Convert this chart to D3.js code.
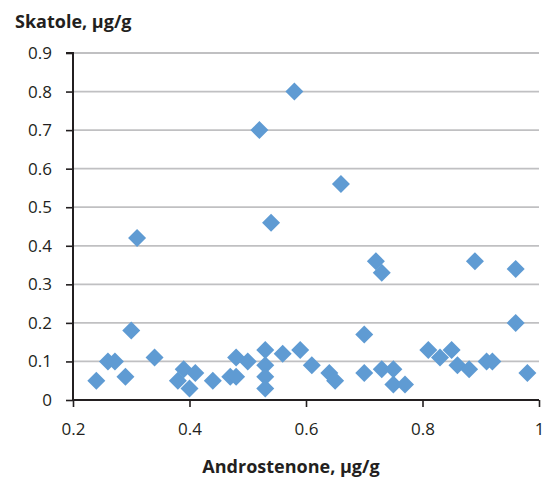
<!DOCTYPE html>
<html>
<head>
<meta charset="utf-8">
<script src="https://cdn.jsdelivr.net/npm/d3@7"></script>
<style>
  html, body { margin: 0; padding: 0; background: #fff; }
  svg { display: block; font-family: "Open Sans", "Noto Sans", sans-serif; }
</style>
</head>
<body>
<svg id="chart" width="545" height="477"></svg>
<script>
const androstenone = [0.24,0.26,0.272,0.29,0.30,0.31,0.34,0.38,0.39,0.41,0.40,0.44,0.47,0.48,0.48,0.50,0.53,0.53,0.53,0.53,0.54,0.56,0.59,0.61,0.64,0.65,0.70,0.70,0.72,0.73,0.73,0.75,0.75,0.77,0.81,0.83,0.85,0.86,0.88,0.89,0.91,0.92,0.96,0.96,0.98,0.58,0.52,0.66];
const skatole      = [0.05,0.10,0.10,0.06,0.18,0.42,0.11,0.05,0.08,0.07,0.03,0.05,0.06,0.06,0.11,0.10,0.13,0.09,0.06,0.03,0.46,0.12,0.13,0.09,0.07,0.05,0.17,0.07,0.36,0.33,0.08,0.08,0.04,0.04,0.13,0.11,0.13,0.09,0.08,0.36,0.10,0.10,0.34,0.20,0.07,0.80,0.70,0.56];
const xTicks = [0.2,0.4,0.6,0.8,1];
const xTickLabels = ["0.2","0.4","0.6","0.8","1"];
const yTicks = [0,0.1,0.2,0.3,0.4,0.5,0.6,0.7,0.8,0.9];
const yTickLabels = ["0","0.1","0.2","0.3","0.4","0.5","0.6","0.7","0.8","0.9"];
const xTitle = "Androstenone, µg/g";
const yTitle = "Skatole, µg/g";

const svg = d3.select("#chart");
const x = d3.scaleLinear().domain([0.2, 1]).range([73, 539]);
const y = d3.scaleLinear().domain([0, 0.9]).range([400, 53]);

// gridlines
svg.append("g").selectAll("line").data(yTicks.filter(d => d > 0)).join("line")
  .attr("x1", x(0.2)).attr("x2", x(1))
  .attr("y1", d => y(d)).attr("y2", d => y(d))
  .attr("stroke", "#c0c0c2").attr("stroke-width", 1.8);

// y axis
const yAxis = d3.axisLeft(y).tickValues(yTicks).tickSize(7).tickPadding(14)
  .tickFormat((d, i) => yTickLabels[i]);
const gy = svg.append("g").attr("transform", `translate(${x(0.2)},0)`).call(yAxis);
gy.select(".domain").attr("stroke", "#231f20").attr("stroke-width", 2).attr("d", `M-7,${y(0.9)}H0V${y(0)}`);
gy.selectAll(".tick line").attr("stroke", "#231f20").attr("stroke-width", 1.6);
gy.selectAll(".tick text").attr("font-size", 17).attr("fill", "#231f20")
  .attr("font-family", "'Open Sans', sans-serif");

// x axis
const xAxis = d3.axisBottom(x).tickValues(xTicks).tickSize(7).tickPadding(16)
  .tickFormat((d, i) => xTickLabels[i]);
const gx = svg.append("g").attr("transform", `translate(0,${y(0)})`).call(xAxis);
gx.select(".domain").attr("stroke", "#231f20").attr("stroke-width", 2).attr("d", `M${x(0.2)},0H${x(1)}`);
gx.selectAll(".tick line").attr("stroke", "#231f20").attr("stroke-width", 1.6);
gx.selectAll(".tick text").attr("font-size", 17).attr("fill", "#231f20")
  .attr("font-family", "'Open Sans', sans-serif");

// points
const pts = androstenone.map((v, i) => ({x: v, y: skatole[i]}));
const sym = d3.symbol().type(d3.symbolSquare).size(162);
svg.append("g").selectAll("path").data(pts).join("path")
  .attr("d", sym)
  .attr("transform", d => `translate(${x(d.x)},${y(d.y)}) rotate(45)`)
  .attr("fill", "#5f9bd3");

// titles
svg.append("text").attr("x", 15).attr("y", 28).text(yTitle)
  .attr("font-size", 18).attr("font-weight", "bold").attr("fill", "#231f20");
svg.append("text").attr("x", 291).attr("y", 473).attr("text-anchor", "middle").text(xTitle)
  .attr("font-size", 18).attr("font-weight", "bold").attr("fill", "#231f20");
</script>
</body>
</html>
